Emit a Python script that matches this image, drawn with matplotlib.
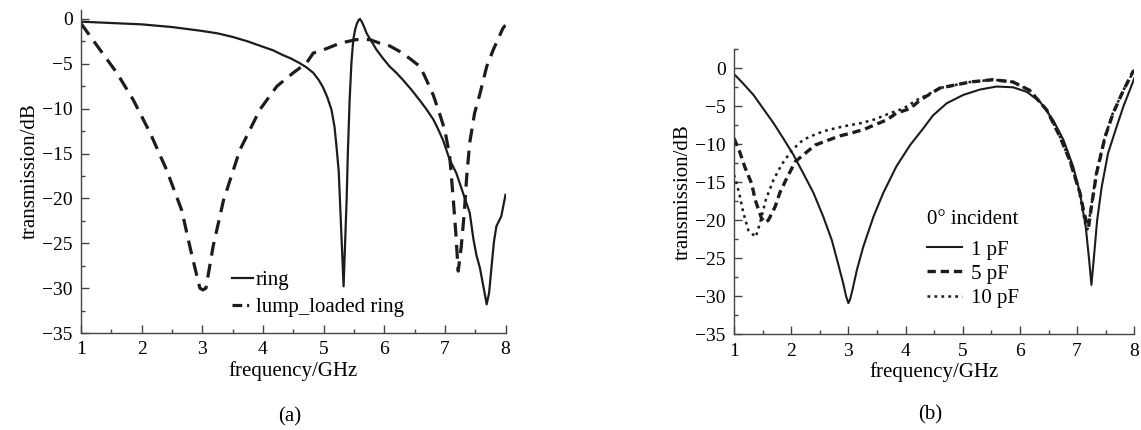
import matplotlib
matplotlib.use("Agg")
import matplotlib.pyplot as plt
from matplotlib.ticker import MultipleLocator
from matplotlib.lines import Line2D

plt.rcParams['font.family'] = ['Liberation Serif', 'DejaVu Serif']
plt.rcParams['lines.scale_dashes'] = False
plt.rcParams['axes.unicode_minus'] = True

# ---------------- data: panel (a) ----------------
ring_f = [1.0, 1.5, 2.0, 2.5, 2.96, 3.25, 3.5, 3.75, 4.0, 4.17, 4.32, 4.46, 4.6, 4.72, 4.83, 4.92, 4.99,
          5.06, 5.13, 5.18, 5.21, 5.25, 5.27, 5.3, 5.33, 5.36, 5.38, 5.4, 5.43, 5.46, 5.49, 5.52, 5.55,
          5.58, 5.6, 5.63, 5.67, 5.71, 5.79, 5.87, 5.98, 6.09, 6.2, 6.31, 6.45, 6.59, 6.7, 6.81, 6.89,
          6.97, 7.08, 7.19, 7.3, 7.41, 7.47, 7.52, 7.58, 7.64, 7.69, 7.73, 7.77, 7.81, 7.85, 7.93, 8.0]
ring_db = [-0.3, -0.45, -0.6, -0.9, -1.3, -1.6, -2.0, -2.5, -3.1, -3.5, -4.0, -4.4, -4.9, -5.4, -6.0, -6.8, -7.6,
           -8.7, -10.1, -12.0, -14.0, -17.0, -20.2, -25.0, -29.8, -24.0, -20.2, -15.0, -9.0, -4.8, -2.3, -1.2, -0.5,
           -0.1, 0.0, -0.3, -0.9, -1.6, -2.5, -3.4, -4.4, -5.3, -6.0, -6.8, -7.9, -9.1, -10.1, -11.2, -12.3,
           -13.5, -15.7, -17.2, -19.4, -21.6, -24.5, -26.3, -27.8, -30.0, -31.8, -30.5, -27.6, -24.8, -23.1, -22.0, -19.6]

lump_f = [1.0, 1.31, 1.59, 1.86, 2.14, 2.41, 2.66, 2.82, 2.96, 3.01, 3.06, 3.18, 3.35, 3.62, 3.95,
          4.23, 4.5, 4.72, 4.83, 5.05, 5.27, 5.54, 5.76, 5.93, 6.09, 6.25, 6.42, 6.59, 6.67, 6.81,
          6.92, 7.0, 7.08, 7.14, 7.18, 7.22, 7.27, 7.32, 7.36, 7.41, 7.49, 7.58, 7.69, 7.8, 7.96, 8.0]
lump_db = [-0.5, -3.4, -6.0, -9.0, -12.7, -16.8, -21.3, -26.1, -30.0, -30.2, -30.0, -25.3, -20.2, -14.6, -10.1,
           -7.5, -6.0, -4.9, -3.8, -3.3, -2.7, -2.3, -2.3, -2.7, -3.0, -3.6, -4.4, -5.3, -6.4, -8.5,
           -10.7, -12.4, -15.3, -20.2, -23.8, -28.1, -25.4, -21.6, -17.6, -13.8, -10.5, -8.3, -5.3, -3.4, -1.0, -0.7]

# ---------------- data: panel (b) ----------------
pf1_f = [1.0, 1.16, 1.34, 1.51, 1.69, 1.86, 2.04, 2.21, 2.39, 2.56, 2.71, 2.82, 2.91, 2.96, 3.0,
         3.03, 3.07, 3.15, 3.26, 3.44, 3.61, 3.84, 4.08, 4.3, 4.48, 4.72, 5.01, 5.3, 5.59, 5.88,
         6.12, 6.35, 6.58, 6.76, 6.93, 7.05, 7.15, 7.21, 7.25, 7.29, 7.35, 7.43, 7.54, 7.69,
         7.82, 7.92, 8.0]
pf1_db = [-0.75, -2.0, -3.5, -5.3, -7.2, -9.2, -11.4, -13.8, -16.4, -19.5, -22.6, -25.7, -28.3, -30.0, -30.9,
          -30.4, -29.2, -26.5, -23.5, -19.5, -16.4, -12.9, -10.1, -8.0, -6.2, -4.6, -3.5, -2.8, -2.4, -2.5,
          -3.1, -4.4, -6.8, -9.4, -12.9, -16.4, -20.8, -25.2, -28.5, -25.2, -20.0, -15.6, -11.2, -7.7,
          -4.8, -2.9, -1.3]

pf5_f = [1.0, 1.1, 1.19, 1.31, 1.37, 1.48, 1.54, 1.6, 1.72, 1.8, 1.92, 2.07, 2.21, 2.42, 2.63,
         2.85, 3.06, 3.29, 3.44, 3.67, 3.84, 4.08, 4.25, 4.6, 5.13, 5.53, 5.88, 6.17, 6.47, 6.7,
         6.87, 7.05, 7.12, 7.17, 7.2, 7.25, 7.34, 7.49, 7.63, 7.81, 7.98, 8.0]
pf5_db = [-9.2, -11.0, -13.0, -15.2, -17.3, -19.7, -20.3, -20.0, -18.2, -16.4, -14.5, -12.3, -11.4, -10.1, -9.5,
          -8.9, -8.5, -8.0, -7.5, -6.8, -5.9, -5.3, -4.2, -2.6, -1.8, -1.5, -1.8, -2.9, -5.5, -9.0,
          -12.1, -16.4, -19.0, -20.4, -20.9, -18.2, -13.8, -9.0, -5.9, -2.9, -0.4, -0.3]

pf10_f = [1.0, 1.09, 1.16, 1.25, 1.38, 1.45, 1.56, 1.69, 1.83, 2.01, 2.21, 2.45, 2.65, 2.94, 3.23,
          3.47, 3.73, 3.96, 4.19, 4.43, 4.6, 5.13, 5.53, 5.88, 6.17, 6.47, 6.7, 6.87, 7.03, 7.1,
          7.15, 7.18, 7.24, 7.33, 7.48, 7.62, 7.8, 7.98, 8.0]
pf10_db = [-14.0, -16.4, -18.9, -21.3, -22.2, -20.5, -17.2, -14.7, -12.7, -10.8, -9.4, -8.6, -8.1, -7.6, -7.2,
           -6.7, -5.9, -5.3, -4.2, -3.3, -2.6, -1.8, -1.5, -1.8, -2.9, -5.5, -9.0, -12.1, -16.0, -18.8,
           -20.8, -21.2, -18.6, -14.0, -9.2, -6.0, -3.0, -0.5, -0.4]

xticks = [1, 2, 3, 4, 5, 6, 7, 8]
yticks = [0, -5, -10, -15, -20, -25, -30, -35]

ink = '#1c1c1c'

fig = plt.figure(figsize=(11.41, 4.30), dpi=100)
axa = fig.add_axes([81 / 1141, 1 - 333 / 430, 424.5 / 1141, 323 / 430])
axb = fig.add_axes([734 / 1141, 1 - 334.3 / 430, 400.3 / 1141, 285 / 430])


def style(ax, ytop):
    ax.set_xlim(1, 8)
    ax.set_ylim(-35, ytop)
    ax.set_xticks(xticks)
    ax.set_yticks(yticks)
    ax.xaxis.set_minor_locator(MultipleLocator(0.5))
    ax.yaxis.set_minor_locator(MultipleLocator(2.5))
    for s in ['top', 'right']:
        ax.spines[s].set_visible(False)
    for s in ['left', 'bottom']:
        ax.spines[s].set_color('#444444')
        ax.spines[s].set_linewidth(1.0)
    ax.tick_params(which='major', direction='in', length=6, width=1.0, color='#444444',
                   labelsize=14, pad=6)
    ax.tick_params(which='minor', direction='in', length=3, width=1.0, color='#444444')
    ax.set_xlabel('frequency/GHz', fontsize=15, labelpad=2)
    ax.set_ylabel('transmission/dB', fontsize=15, labelpad=2)


style(axa, 1.0)
style(axb, 2.5)

# panel (a)
axa.plot(ring_f, ring_db, color=ink, lw=1.6)
axa.plot(lump_f, lump_db, color=ink, lw=2.3, dashes=(10, 6))
ha = [Line2D([], [], color=ink, lw=1.6),
      Line2D([], [], color=ink, lw=2.3, dashes=(7, 3.5, 1.5, 10))]
axa.legend(ha, ['ring', 'lump_loaded ring'], loc='center left', bbox_to_anchor=(0.355, 0.121),
           frameon=False, fontsize=15, handlelength=1.0, handletextpad=0.15, labelspacing=0.38,
           borderpad=0, borderaxespad=0)

# panel (b)
axb.plot(pf1_f, pf1_db, color=ink, lw=1.5, label='1 pF')
axb.plot(pf5_f, pf5_db, color=ink, lw=2.4, dashes=(6, 3.5), label='5 pF')
axb.plot(pf10_f, pf10_db, color=ink, lw=1.8, dashes=(2, 3), label='10 pF')
axb.legend(loc='center left', bbox_to_anchor=(0.482, 0.2116), frameon=False, fontsize=15,
           handlelength=1.7, handletextpad=0.4, labelspacing=0.22, borderpad=0, borderaxespad=0)
fig.text(927 / 1141, 1 - 220 / 430, '0° incident', fontsize=15, ha='left', va='center')

fig.text(290 / 1141, 1 - 417 / 430, '(a)', ha='center', va='center', fontsize=15)
fig.text(930 / 1141, 1 - 415 / 430, '(b)', ha='center', va='center', fontsize=15)

fig.savefig('out.png', dpi=100)
